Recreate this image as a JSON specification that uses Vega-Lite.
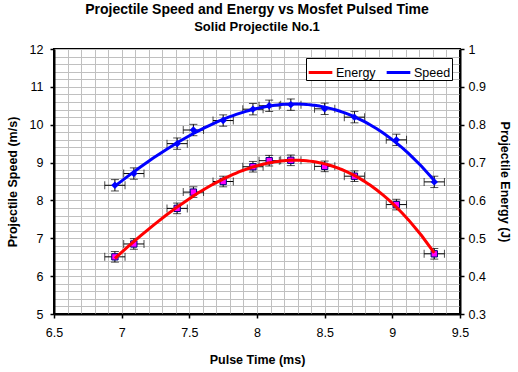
{
  "$schema": "https://vega.github.io/schema/vega-lite/v6.json",
  "width": 406,
  "height": 265,
  "autosize": {"type": "none"},
  "padding": {"left": 54, "top": 49, "right": 58, "bottom": 58},
  "background": "white",
  "config": {
    "font": "Liberation Sans",
    "view": {"stroke": "black", "strokeWidth": 2},
    "axis": {
      "domainColor": "black",
      "domainWidth": 2,
      "tickColor": "black",
      "tickWidth": 1.5,
      "tickSize": 4,
      "labelColor": "black",
      "labelFont": "Liberation Sans",
      "labelFontSize": 12.5,
      "titleFont": "Liberation Sans",
      "titleFontSize": 12.5,
      "titleFontWeight": "bold",
      "titleColor": "black",
      "gridColor": "#C0C0C0",
      "gridWidth": 1,
      "gridOpacity": 1
    }
  },
  "title": {
    "text": "Projectile Speed and Energy vs Mosfet Pulsed Time",
    "subtitle": "Solid Projectile No.1",
    "font": "Liberation Sans",
    "fontSize": 14,
    "fontWeight": "bold",
    "color": "black",
    "subtitleFont": "Liberation Sans",
    "subtitleFontSize": 13,
    "subtitleFontWeight": "bold",
    "subtitleColor": "black",
    "subtitlePadding": 4,
    "anchor": "middle",
    "offset": 9
  },
  "data": {
    "values": [
      {"t": 6.95, "speed": 8.40, "energy": 0.451, "tErr": 0.075, "sErr": 0.15, "eErr": 0.014},
      {"t": 7.09, "speed": 8.71, "energy": 0.485, "tErr": 0.075, "sErr": 0.15, "eErr": 0.014},
      {"t": 7.41, "speed": 9.50, "energy": 0.579, "tErr": 0.075, "sErr": 0.15, "eErr": 0.014},
      {"t": 7.53, "speed": 9.86, "energy": 0.622, "tErr": 0.075, "sErr": 0.15, "eErr": 0.014},
      {"t": 7.75, "speed": 10.11, "energy": 0.650, "tErr": 0.075, "sErr": 0.15, "eErr": 0.014},
      {"t": 7.97, "speed": 10.41, "energy": 0.689, "tErr": 0.075, "sErr": 0.15, "eErr": 0.014},
      {"t": 8.09, "speed": 10.50, "energy": 0.705, "tErr": 0.075, "sErr": 0.15, "eErr": 0.014},
      {"t": 8.25, "speed": 10.53, "energy": 0.706, "tErr": 0.075, "sErr": 0.15, "eErr": 0.014},
      {"t": 8.50, "speed": 10.42, "energy": 0.690, "tErr": 0.075, "sErr": 0.15, "eErr": 0.014},
      {"t": 8.72, "speed": 10.20, "energy": 0.664, "tErr": 0.075, "sErr": 0.15, "eErr": 0.014},
      {"t": 9.03, "speed": 9.60, "energy": 0.589, "tErr": 0.075, "sErr": 0.15, "eErr": 0.014},
      {"t": 9.31, "speed": 8.49, "energy": 0.459, "tErr": 0.075, "sErr": 0.15, "eErr": 0.014}
    ]
  },
  "encoding": {
    "x": {
      "field": "t",
      "type": "quantitative",
      "scale": {"domain": [6.5, 9.5], "nice": false, "zero": false},
      "axis": {
        "title": "Pulse Time (ms)",
        "values": [6.5, 6.6, 6.7, 6.8, 6.9, 7.0, 7.1, 7.2, 7.3, 7.4, 7.5, 7.6, 7.7, 7.8, 7.9, 8.0, 8.1, 8.2, 8.3, 8.4, 8.5, 8.6, 8.7, 8.8, 8.9, 9.0, 9.1, 9.2, 9.3, 9.4, 9.5],
        "format": "~g",
        "labelExpr": "abs(datum.value * 2 - round(datum.value * 2)) < 0.001 ? datum.label : ''",
        "tickOpacity": {"condition": {"test": "abs(datum.value * 2 - round(datum.value * 2)) < 0.001", "value": 1}, "value": 0},
        "grid": true,
        "labelPadding": 8,
        "titlePadding": 15,
        "labelFlush": false
      }
    }
  },
  "layer": [
    {
      "encoding": {
        "y": {
          "field": "speed",
          "type": "quantitative",
          "scale": {"domain": [5, 12], "nice": false, "zero": false},
          "axis": {
            "title": "Projectile Speed (m/s)",
            "orient": "left",
            "values": [5, 5.2, 5.4, 5.6, 5.8, 6, 6.2, 6.4, 6.6, 6.8, 7, 7.2, 7.4, 7.6, 7.8, 8, 8.2, 8.4, 8.6, 8.8, 9, 9.2, 9.4, 9.6, 9.8, 10, 10.2, 10.4, 10.6, 10.8, 11, 11.2, 11.4, 11.6, 11.8, 12],
            "format": "~g",
            "labelExpr": "abs(datum.value - round(datum.value)) < 0.001 ? datum.label : ''",
            "tickOpacity": {"condition": {"test": "abs(datum.value - round(datum.value)) < 0.001", "value": 1}, "value": 0},
            "grid": true,
            "labelPadding": 7,
            "titlePadding": 10,
            "labelFlush": false
          }
        }
      },
      "layer": [
        {
          "mark": {"type": "errorbar", "ticks": {"size": 8, "color": "black"}, "rule": {"color": "black", "strokeWidth": 1}},
          "encoding": {"xError": {"field": "tErr"}}
        },
        {
          "mark": {"type": "errorbar", "ticks": {"size": 8, "color": "black"}, "rule": {"color": "black", "strokeWidth": 1}},
          "encoding": {"yError": {"field": "sErr"}}
        },
        {
          "mark": {"type": "point", "shape": "diamond", "filled": true, "color": "#0000FF", "size": 55, "opacity": 1}
        },
        {
          "transform": [{"regression": "speed", "on": "t", "method": "poly", "order": 3}],
          "mark": {"type": "line", "strokeWidth": 3},
          "encoding": {
            "color": {
              "datum": "Speed",
              "type": "nominal",
              "scale": {"domain": ["Energy", "Speed"], "range": ["#FF0000", "#0000FF"]},
              "legend": {
                "title": null,
                "orient": "none",
                "legendX": 252,
                "legendY": 9,
                "direction": "horizontal",
                "symbolType": "stroke",
                "symbolStrokeWidth": 3,
                "symbolSize": 560,
                "labelFontSize": 12.5,
                "labelFont": "Liberation Sans",
                "labelColor": "black",
                "strokeColor": "black",
                "fillColor": "white",
                "padding": 1,
                "columnPadding": 4,
                "labelOffset": 2
              }
            }
          }
        }
      ]
    },
    {
      "encoding": {
        "y": {
          "field": "energy",
          "type": "quantitative",
          "scale": {"domain": [0.3, 1], "nice": false, "zero": false},
          "axis": {
            "title": "Projectile Energy (J)",
            "orient": "right",
            "values": [0.3, 0.4, 0.5, 0.6, 0.7, 0.8, 0.9, 1],
            "format": "~g",
            "grid": false,
            "labelPadding": 4,
            "titlePadding": 12,
            "labelFlush": false
          }
        }
      },
      "layer": [
        {
          "mark": {"type": "errorbar", "ticks": {"size": 8, "color": "black"}, "rule": {"color": "black", "strokeWidth": 1}},
          "encoding": {"xError": {"field": "tErr"}}
        },
        {
          "mark": {"type": "errorbar", "ticks": {"size": 8, "color": "black"}, "rule": {"color": "black", "strokeWidth": 1}},
          "encoding": {"yError": {"field": "eErr"}}
        },
        {
          "mark": {"type": "square", "filled": true, "color": "#FF00FF", "stroke": "#000080", "strokeWidth": 1, "size": 40, "opacity": 1}
        },
        {
          "transform": [{"regression": "energy", "on": "t", "method": "poly", "order": 3}],
          "mark": {"type": "line", "strokeWidth": 3},
          "encoding": {
            "color": {"datum": "Energy", "type": "nominal"}
          }
        }
      ]
    }
  ],
  "resolve": {"scale": {"y": "independent"}}
}
